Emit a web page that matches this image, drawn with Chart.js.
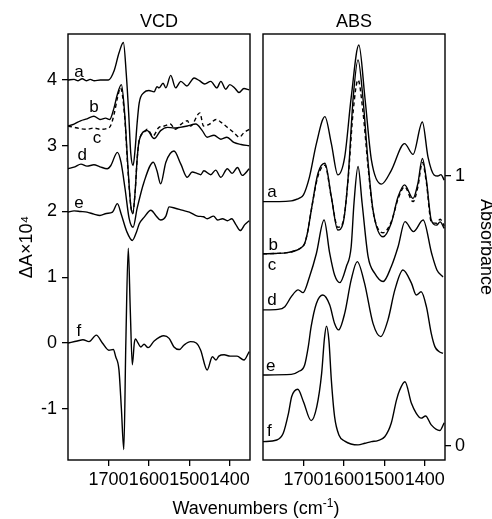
<!DOCTYPE html>
<html>
<head>
<meta charset="utf-8">
<script src="https://cdn.jsdelivr.net/npm/chart.js@4"></script>
<style>
  body { margin: 0; background: #fff; }
  #wrap { position: relative; width: 492px; height: 519px; }
  canvas { position: absolute; top: 0; }
  #xtitle { position: absolute; left: 0; width: 512px; top: 498px; text-align: center;
    font: 18px 'Liberation Sans', Arial, sans-serif; line-height: 20px; color: #000; }
  #xtitle sup { font-size: 12px; line-height: 0; }
</style>
</head>
<body>
<div id="wrap">
  <canvas id="vcd" width="256" height="519" style="left:0"></canvas>
  <canvas id="abs" width="236" height="519" style="left:256px"></canvas>
  <div id="xtitle">Wavenumbers (cm<sup>-1</sup>)</div>
</div>
<script>
// VCD spectra (dA x 10^4), offset as in the figure
const vcdWaveA = [1800,1785,1775,1765,1755,1745,1735,1720,1700,1686,1674,1663,1656,1650,1645,1639,1634,1629,1624,1612,1600,1587,1580,1575,1565,1558,1546,1534,1521,1506,1488,1475,1462,1447,1432,1422,1410,1400,1388,1377,1365,1352];
const vcdA = [4.00,4.01,3.99,4.02,3.99,4.01,3.99,4.00,4.00,4.14,4.41,4.57,4.1,3.5,2.9,2.70,2.95,3.35,3.65,3.81,3.84,3.82,3.90,3.88,3.95,3.88,4.07,3.88,3.98,3.91,4.03,3.99,3.94,3.98,3.88,3.98,3.86,3.93,3.88,3.81,3.87,3.85];

const vcdWaveB = [1800,1785,1769,1753,1736,1721,1707,1697,1686,1678,1668,1660,1652,1645,1640,1634,1629,1624,1604,1587,1571,1554,1538,1523,1505,1484,1468,1456,1439,1422,1407,1390,1372,1352];
const vcdB = [3.30,3.33,3.38,3.41,3.45,3.40,3.42,3.40,3.58,3.78,3.93,3.5,2.7,2.1,1.97,2.3,2.8,3.08,3.23,3.11,3.23,3.28,3.27,3.28,3.30,3.33,3.23,3.13,3.16,3.10,3.13,3.05,3.02,3.00];

const vcdWaveC = [1800,1785,1769,1753,1736,1720,1705,1695,1686,1678,1670,1660,1652,1645,1640,1634,1629,1624,1612,1604,1590,1575,1562,1547,1535,1520,1505,1497,1474,1465,1450,1434,1420,1410,1390,1376,1365,1352];
const vcdC = [3.30,3.28,3.26,3.25,3.27,3.25,3.26,3.30,3.48,3.72,3.88,3.45,2.65,2.1,1.97,2.3,2.8,3.08,3.20,3.25,3.15,3.28,3.30,3.33,3.25,3.33,3.38,3.30,3.50,3.30,3.33,3.40,3.35,3.30,3.20,3.13,3.20,3.25];

const vcdWaveD = [1800,1783,1768,1753,1736,1721,1703,1694,1678,1669,1659,1649,1639,1629,1612,1589,1580,1571,1558,1538,1521,1505,1493,1481,1472,1464,1447,1435,1422,1406,1394,1381,1369,1352];
const vcdD = [2.65,2.68,2.72,2.69,2.71,2.68,2.65,2.70,2.90,2.75,2.35,1.9,1.76,2.05,2.45,2.75,2.62,2.42,2.75,2.92,2.72,2.52,2.60,2.58,2.56,2.62,2.56,2.63,2.52,2.65,2.58,2.67,2.55,2.65];

const vcdWaveE = [1800,1785,1769,1753,1736,1721,1705,1690,1678,1668,1655,1641,1630,1624,1612,1595,1583,1571,1558,1550,1535,1518,1500,1480,1465,1456,1440,1430,1418,1406,1395,1385,1374,1363,1352];
const vcdE = [1.99,2.01,2.00,1.99,1.96,1.94,1.97,1.99,2.12,1.95,1.70,1.56,1.70,1.81,1.91,2.02,1.94,1.87,1.93,2.07,2.05,2.02,1.99,1.93,1.92,1.89,1.93,1.87,1.89,1.86,1.89,1.80,1.71,1.80,1.86];

const vcdWaveF = [1800,1777,1763,1748,1730,1715,1699,1688,1682,1674,1668,1662,1657,1651,1646,1641,1636,1633,1627,1620,1612,1602,1587,1563,1550,1538,1525,1513,1497,1483,1472,1456,1443,1434,1427,1414,1399,1382,1365,1352];
const vcdF = [0.0,0.03,0.05,0.02,0.12,0.0,-0.11,-0.10,-0.21,-0.41,-1.0,-1.62,0.0,1.44,0.5,-0.33,0.0,0.06,0.0,-0.06,-0.02,-0.07,0.03,0.11,0.07,-0.06,-0.10,-0.03,0.02,0.0,-0.11,-0.41,-0.21,-0.26,-0.20,-0.18,-0.20,-0.20,-0.26,-0.13];

// absorbance spectra, offset
const absWaveA = [1800,1760,1730,1720,1710,1700,1685,1668,1647,1631,1615,1598,1582,1563,1548,1532,1507,1483,1450,1429,1406,1392,1377,1368,1360,1352];
const absA = [0.905,0.905,0.908,0.912,0.918,0.93,0.997,1.12,1.22,1.12,1.004,1.07,1.29,1.485,1.29,1.06,0.97,1.02,1.12,1.08,1.20,1.07,1.004,1.0,1.005,0.985];

const absWaveBC = [1800,1770,1740,1717,1705,1697,1690,1681,1664,1647,1631,1615,1602,1590,1577,1565,1553,1540,1528,1503,1483,1466,1450,1429,1417,1406,1396,1384,1371,1362,1352];
const absB = [0.712,0.713,0.716,0.725,0.735,0.75,0.79,0.87,1.01,1.047,0.923,0.80,0.825,0.985,1.29,1.43,1.29,1.047,0.874,0.775,0.825,0.923,0.967,0.917,0.973,1.065,0.985,0.837,0.818,0.83,0.806];
const absC = [0.712,0.713,0.716,0.725,0.735,0.75,0.79,0.87,1.0,1.04,0.92,0.81,0.83,0.98,1.24,1.356,1.24,1.03,0.87,0.79,0.83,0.915,0.96,0.905,0.96,1.05,0.975,0.83,0.825,0.84,0.815];

const absWaveD = [1800,1763,1746,1730,1713,1701,1685,1668,1649,1635,1623,1610,1594,1582,1575,1565,1555,1540,1524,1503,1483,1466,1449,1428,1404,1383,1370,1355];
const absD = [0.504,0.506,0.516,0.553,0.578,0.568,0.627,0.713,0.837,0.713,0.633,0.605,0.664,0.738,0.90,1.035,0.90,0.70,0.64,0.609,0.664,0.738,0.831,0.794,0.837,0.713,0.652,0.626];

const absWaveE = [1800,1730,1713,1697,1688,1681,1668,1652,1635,1623,1613,1598,1582,1567,1549,1528,1509,1491,1474,1454,1433,1421,1409,1396,1384,1375,1365,1355];
const absE = [0.263,0.265,0.275,0.30,0.368,0.442,0.528,0.559,0.522,0.454,0.43,0.491,0.615,0.683,0.603,0.454,0.405,0.467,0.578,0.652,0.603,0.559,0.571,0.516,0.417,0.368,0.35,0.343];

const absWaveF = [1800,1766,1750,1737,1729,1714,1700,1681,1667,1655,1648,1643,1637,1631,1623,1612,1598,1565,1548,1532,1516,1499,1483,1470,1462,1449,1433,1421,1409,1398,1384,1363,1352];
const absF = [0.016,0.022,0.047,0.121,0.183,0.21,0.164,0.094,0.146,0.269,0.40,0.444,0.39,0.244,0.109,0.04,0.018,0.004,0.01,0.016,0.02,0.034,0.084,0.17,0.207,0.238,0.158,0.121,0.103,0.111,0.078,0.057,0.086];

// ticks and trace labels
const waveTicks = [1700, 1600, 1500, 1400];
const vcdTicks = [-1, 0, 1, 2, 3, 4];
const absTicks = [0, 1];
const traceNames = ["a", "b", "c", "d", "e", "f"];
const vcdNameWave = [1773, 1736, 1728, 1765, 1773, 1773];
const vcdNameVal = [4.11, 3.58, 3.12, 2.85, 2.12, 0.17];
const absNameWave = [1778, 1775, 1778, 1778, 1781, 1784];
const absNameVal = [0.938, 0.742, 0.668, 0.541, 0.294, 0.053];

const FONT = "'Liberation Sans', Arial, sans-serif";
Chart.defaults.font.family = FONT;
Chart.defaults.color = "#000";

function line(xs, ys, dashed) {
    return {
        data: xs.map((x, i) => ({ x: x, y: ys[i] })),
        borderColor: "#000",
        borderWidth: 1.4,
        borderDash: dashed ? [4, 3] : [],
        pointRadius: 0,
        fill: false,
        cubicInterpolationMode: "monotone"
    };
}

// box round the plot area + a..f labels
const framePlugin = {
    id: "frame",
    afterDraw(chart, args, opts) {
        const ctx = chart.ctx;
        const a = chart.chartArea;
        ctx.save();
        ctx.strokeStyle = "#000";
        ctx.lineWidth = 1.4;
        ctx.strokeRect(a.left, a.top, a.right - a.left, a.bottom - a.top);
        ctx.font = "17px " + FONT;
        ctx.fillStyle = "#000";
        ctx.textAlign = "center";
        ctx.textBaseline = "middle";
        opts.names.forEach((n, i) => {
            ctx.fillText(n, chart.scales.x.getPixelForValue(opts.xs[i]),
                chart.scales.y.getPixelForValue(opts.ys[i]));
        });
        ctx.restore();
    }
};

function xScale() {
    return {
        type: "linear",
        reverse: true,
        min: 1350,
        max: 1800,
        afterBuildTicks: s => { s.ticks = waveTicks.map(v => ({ value: v })); },
        afterFit: s => { s.height = 59; },
        border: { display: false },
        grid: { drawOnChartArea: false, tickLength: 6, color: "#000", lineWidth: 1.3 },
        ticks: { font: { size: 18 }, padding: 3, maxRotation: 0, autoSkip: false, callback: v => String(v) }
    };
}

new Chart(document.getElementById("vcd"), {
    type: "line",
    data: {
        datasets: [
            line(vcdWaveA, vcdA), line(vcdWaveB, vcdB), line(vcdWaveC, vcdC, true),
            line(vcdWaveD, vcdD), line(vcdWaveE, vcdE), line(vcdWaveF, vcdF)
        ]
    },
    options: {
        responsive: false,
        animation: false,
        layout: { padding: { left: 0, right: 6, top: 0, bottom: 0 } },
        plugins: {
            legend: { display: false },
            tooltip: { enabled: false },
            title: { display: true, text: "VCD", fullSize: false, font: { size: 18, weight: "normal" },
                padding: { top: 11.2, bottom: 1.2 } },
            frame: { names: traceNames, xs: vcdNameWave, ys: vcdNameVal }
        },
        scales: {
            x: xScale(),
            y: {
                min: -1.78,
                max: 4.70,
                afterBuildTicks: s => { s.ticks = vcdTicks.map(v => ({ value: v })); },
                afterFit: s => { s.width = 68; },
                border: { display: false },
                grid: { drawOnChartArea: false, tickLength: 6, color: "#000", lineWidth: 1.3 },
                ticks: { font: { size: 18 }, padding: 5, callback: v => String(v) },
                title: { display: true, text: "ΔA×10⁴", font: { size: 18 }, padding: { top: 16, bottom: 0 } }
            }
        }
    },
    plugins: [framePlugin]
});

new Chart(document.getElementById("abs"), {
    type: "line",
    data: {
        datasets: [
            line(absWaveA, absA), line(absWaveBC, absB), line(absWaveBC, absC, true),
            line(absWaveD, absD), line(absWaveE, absE), line(absWaveF, absF)
        ]
    },
    options: {
        responsive: false,
        animation: false,
        layout: { padding: { left: 7, right: 0, top: 0, bottom: 0 } },
        plugins: {
            legend: { display: false },
            tooltip: { enabled: false },
            title: { display: true, text: "ABS", fullSize: false, font: { size: 18, weight: "normal" },
                padding: { top: 11.2, bottom: 1.2 } },
            frame: { names: traceNames, xs: absNameWave, ys: absNameVal }
        },
        scales: {
            x: xScale(),
            y: {
                position: "right",
                min: -0.052,
                max: 1.526,
                afterBuildTicks: s => { s.ticks = absTicks.map(v => ({ value: v })); },
                afterFit: s => { s.width = 47; },
                border: { display: false },
                grid: { drawOnChartArea: false, tickLength: 6, color: "#000", lineWidth: 1.3 },
                ticks: { font: { size: 18 }, padding: 4, callback: v => String(v) },
                title: { display: true, text: "Absorbance", font: { size: 18 }, padding: { top: -5, bottom: 0 } }
            }
        }
    },
    plugins: [framePlugin]
});
</script>
</body>
</html>
